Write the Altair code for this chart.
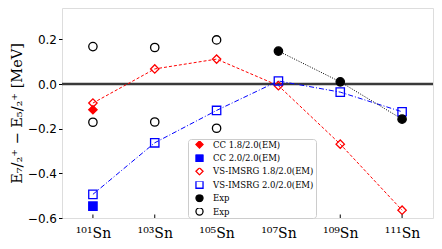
import altair as alt
import pandas as pd

# ---- data ----
x_iso = [101, 103, 105, 107, 109, 111]
x_labels = ["¹⁰¹Sn", "¹⁰³Sn", "¹⁰⁵Sn", "¹⁰⁷Sn", "¹⁰⁹Sn", "¹¹¹Sn"]

cc18_x = [101]
cc18_y = [-0.115]
cc20_x = [101]
cc20_y = [-0.547]

vs18_y = [-0.085, 0.068, 0.112, -0.007, -0.269, -0.565]
vs20_y = [-0.494, -0.263, -0.118, 0.014, -0.036, -0.124]

exp_x = [107, 109, 111]
exp_y = [0.148, 0.010, -0.157]

exp_open_x = [101, 101, 103, 103, 105, 105]
exp_open_y = [0.168, -0.171, 0.164, -0.170, 0.198, -0.198]

y_ticks = [-0.6, -0.4, -0.2, 0.0, 0.2]

series_names = ["CC 1.8/2.0(EM)", "CC 2.0/2.0(EM)", "VS-IMSRG 1.8/2.0(EM)",
                "VS-IMSRG 2.0/2.0(EM)", "Exp", "Exp (open)"]
shapes = ["diamond", "square", "diamond", "square", "circle", "circle"]
fills = ["#ff0000", "#0000ff", "transparent", "transparent", "#000000", "transparent"]
strokes = ["#ff0000", "#0000ff", "#ff0000", "#0000ff", "#000000", "#000000"]

rows = []
for xv, yv in zip(cc18_x, cc18_y):
    rows.append({"series": series_names[0], "x": xv, "y": yv})
for xv, yv in zip(cc20_x, cc20_y):
    rows.append({"series": series_names[1], "x": xv, "y": yv})
for xv, yv in zip(x_iso, vs18_y):
    rows.append({"series": series_names[2], "x": xv, "y": yv})
for xv, yv in zip(x_iso, vs20_y):
    rows.append({"series": series_names[3], "x": xv, "y": yv})
for xv, yv in zip(exp_x, exp_y):
    rows.append({"series": series_names[4], "x": xv, "y": yv})
for xv, yv in zip(exp_open_x, exp_open_y):
    rows.append({"series": series_names[5], "x": xv, "y": yv})
df = pd.DataFrame(rows)

W, H = 371, 210

label_arr = "[" + ",".join("'" + s + "'" for s in x_labels) + "]"
x_enc = alt.X(
    "x:Q",
    scale=alt.Scale(domain=[100, 112], nice=False, zero=False),
    axis=alt.Axis(values=x_iso, labelExpr=label_arr + "[(datum.value-101)/2]",
                  ticks=False, domain=False, grid=False, title=None,
                  labelFont="DejaVu Serif", labelFontSize=14, labelPadding=8,
                  labelColor="black", labelOverlap=False),
)
y_enc = alt.Y(
    "y:Q",
    scale=alt.Scale(domain=[-0.6, 0.341], nice=False, zero=False),
    axis=alt.Axis(values=y_ticks, format=".1f", tickSize=3.5, tickColor="black",
                  domain=False, grid=False,
                  title="E₇/₂⁺ − E₅/₂⁺ [MeV]",
                  labelFont="DejaVu Sans", labelFontSize=12, labelPadding=2,
                  labelColor="black",
                  titleFont="DejaVu Serif", titleFontSize=14.5, titleFontWeight="normal",
                  titleColor="black", titlePadding=3),
)

legend = alt.Legend(
    title=None, orient="none", legendX=126, legendY=131,
    labelFont="DejaVu Serif", labelFontSize=8.5, labelColor="black",
    labelExpr="datum.label == 'Exp (open)' ? 'Exp' : datum.label",
    symbolSize=50, symbolStrokeWidth=1.3, clipHeight=7, rowPadding=4.4,
    labelOffset=9, symbolOffset=5,
    padding=2, strokeColor="#cccccc", fillColor="white", cornerRadius=3,
)

zero = alt.Chart(pd.DataFrame({"y": [0.0]})).mark_rule(
    color="#3a3a3a", strokeWidth=2.5
).encode(y="y:Q")

base = alt.Chart(df)
line_vs18 = base.transform_filter(alt.datum.series == series_names[2]).mark_line(
    color="#ff0000", strokeDash=[3, 2], strokeWidth=1
).encode(x=x_enc, y=y_enc)
line_vs20 = base.transform_filter(alt.datum.series == series_names[3]).mark_line(
    color="#0000ff", strokeDash=[5, 2, 1, 2], strokeWidth=1
).encode(x=x_enc, y=y_enc)
line_exp = base.transform_filter(alt.datum.series == series_names[4]).mark_line(
    color="#000000", strokeDash=[1, 1.5], strokeWidth=1
).encode(x=x_enc, y=y_enc)

points = base.mark_point(filled=True, size=70, strokeWidth=1.3, opacity=1).encode(
    x=x_enc,
    y=y_enc,
    shape=alt.Shape("series:N", scale=alt.Scale(domain=series_names, range=shapes), legend=legend),
    fill=alt.Fill("series:N", scale=alt.Scale(domain=series_names, range=fills), legend=legend),
    stroke=alt.Stroke("series:N", scale=alt.Scale(domain=series_names, range=strokes), legend=legend),
)

xticks = alt.Chart(pd.DataFrame({"x": x_iso})).mark_rule(color="black", strokeWidth=1).encode(
    x="x:Q", y=alt.value(H), y2=alt.value(H - 3.5)
)

chart = alt.layer(zero, line_vs18, line_vs20, line_exp, points, xticks).properties(
    width=W, height=H,
    autosize=alt.AutoSizeParams(type="none"),
    padding={"left": 54, "top": 0, "right": 1, "bottom": 23},
).configure_view(stroke="#333333", strokeWidth=1.2).configure(background="white")

chart.save("out.html", embed_options={"renderer": "svg", "actions": False})
